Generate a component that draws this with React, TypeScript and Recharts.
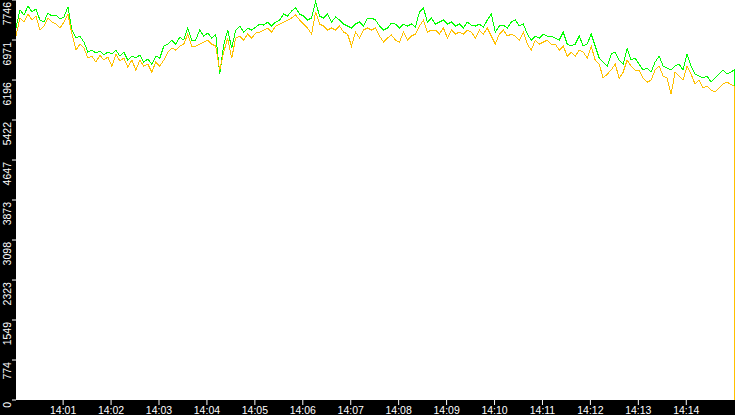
import React from 'react';
import { LineChart, Line, XAxis, YAxis, CartesianGrid } from 'recharts';

// seconds after 14:00, one sample every 5 s; the last two samples both fall at 14:15:00
const stepSeconds = 5;
const endSeconds = 900;

const greenValues = [
  7203, 7552, 7455, 7630, 7513, 7571, 7358, 7319, 7494, 7436, 7455, 7377, 7416, 7610, 7164,
  7009, 7048, 6931, 6737, 6776, 6717, 6757, 6679, 6737, 6698, 6776, 6660, 6737, 6582, 6660,
  6621, 6679, 6543, 6601, 6504, 6660, 6621, 6854, 6892, 6970, 6892, 7028, 6970, 7203, 6970,
  6970, 7164, 7048, 7106, 7009, 7086, 6310, 6873, 7164, 6815, 7164, 7242, 7125, 7203, 7164,
  7222, 7280, 7261, 7319, 7242, 7319, 7358, 7474, 7436, 7533, 7591, 7474, 7436, 7358, 7397,
  7707, 7436, 7397, 7474, 7319, 7416, 7358, 7280, 7242, 7203, 7280, 7319, 7242, 7397,
  7397, 7358, 7242, 7164, 7203, 7300, 7280, 7203, 7280, 7242, 7280, 7222, 7513, 7591, 7319,
  7397, 7280, 7319, 7358, 7280, 7319, 7242, 7280, 7203, 7319, 7261, 7242, 7280, 7222, 7358,
  7474, 7125, 7242, 7261, 7203, 7319, 7358, 7242, 7280, 7086, 6970, 7048, 7009, 7086, 7048,
  7048, 7009, 6970, 7125, 6892, 6854, 6892, 7048, 6854, 6892, 7086, 6854, 6621, 6543, 6466,
  6698, 6737, 6582, 6504, 6815, 6582, 6621, 6504, 6388, 6427, 6349, 6543, 6660, 6466, 6427,
  6388, 6466, 6504, 6388, 6698, 6466, 6310, 6272, 6233, 6272, 6155, 6233, 6310, 6388, 6310,
  6388, 3148,
];

const orangeValues = [
  7048, 7397, 7319, 7474, 7358, 7436, 7164, 7242, 7397, 7319, 7280, 7203, 7319, 7474, 7086,
  6776, 6892, 6815, 6621, 6660, 6543, 6679, 6582, 6640, 6466, 6698, 6563, 6621, 6446, 6582,
  6388, 6582, 6466, 6504, 6349, 6543, 6466, 6582, 6737, 6815, 6776, 6854, 6892, 7086, 6854,
  6854, 6892, 6931, 6970, 6892, 6854, 6388, 6737, 7009, 6621, 7009, 7048, 6970, 7086, 7009,
  7106, 7125, 7164, 7203, 7125, 7242, 7280, 7319, 7358, 7397, 7455, 7358, 7280, 7203, 7086,
  7513, 7280, 7242, 7164, 7203, 7164, 7242, 7125, 7086, 6854, 7125, 7009, 7164, 7203,
  7164, 7203, 7048, 6931, 7009, 7067, 6970, 6931, 7125, 6970, 7048, 7086, 7242, 7358, 7125,
  7164, 7164, 7086, 7203, 7009, 7164, 7086, 7125, 7086, 7164, 7125, 7009, 7164, 7086, 7203,
  7048, 6892, 7086, 7164, 7048, 7086, 7048, 6970, 7125, 6892, 6776, 6970, 6892, 6931, 6970,
  6892, 6892, 6776, 6854, 6660, 6737, 6660, 6776, 6737, 6621, 6854, 6582, 6504, 6233, 6310,
  6388, 6504, 6233, 6349, 6582, 6466, 6388, 6388, 6233, 6155, 6194, 6388, 6466, 6272, 6233,
  5922, 6349, 6272, 6194, 6466, 6310, 6116, 6194, 6039, 6078, 6000, 5961, 6039, 6116, 6155,
  6078, 0,
];

const yTicks = [0, 774, 1549, 2323, 3098, 3873, 4647, 5422, 6196, 6971, 7746];
const xTicks = [60, 120, 180, 240, 300, 360, 420, 480, 540, 600, 660, 720, 780, 840];

const last = greenValues.length - 1;
const data = greenValues.map((g, i) => ({
  t: i >= last - 1 ? endSeconds : 1 + i * stepSeconds,
  green: g,
  orange: orangeValues[i],
}));

const fmtMinute = (t: number) => `14:${String(Math.round(t / 60)).padStart(2, '0')}`;

const YTick = ({ y, payload }: any) => (
  <text
    transform={`translate(11, ${y + 2}) rotate(-90)`}
    textAnchor="end"
    fill="#fff"
    fontSize={10.5}
    fontFamily="Liberation Sans, Arial, sans-serif"
  >
    {payload.value}
  </text>
);

export default function App() {
  return (
    <div style={{ position: 'fixed', left: 0, top: 0, width: 735, height: 415, background: '#000' }}>
      <LineChart width={735} height={415} data={data} margin={{ top: 0, right: 0, left: 0, bottom: 0 }}>
        <CartesianGrid fill="#fff" horizontal={false} vertical={false} stroke="none" />
        <XAxis
          dataKey="t"
          type="number"
          domain={[1, endSeconds + 1]}
          ticks={xTicks}
          tickFormatter={fmtMinute}
          height={15}
          tickSize={5}
          axisLine={false}
          tickLine={{ stroke: '#fff' }}
          tick={{ fill: '#fff', fontSize: 10.5, fontFamily: 'Liberation Sans, Arial, sans-serif' }}
          interval={0}
        />
        <YAxis
          type="number"
          domain={[0, 7746]}
          ticks={yTicks}
          width={16}
          tickSize={4}
          axisLine={false}
          tickLine={{ stroke: '#fff' }}
          tick={<YTick />}
          interval={0}
        />
        <Line
          type="linear"
          dataKey="green"
          stroke="#00ff00"
          strokeWidth={1}
          dot={false}
          activeDot={false}
          shapeRendering="crispEdges"
          isAnimationActive={false}
        />
        <Line
          type="linear"
          dataKey="orange"
          stroke="#ffc000"
          strokeWidth={1}
          dot={false}
          activeDot={false}
          shapeRendering="crispEdges"
          isAnimationActive={false}
        />
      </LineChart>
    </div>
  );
}
